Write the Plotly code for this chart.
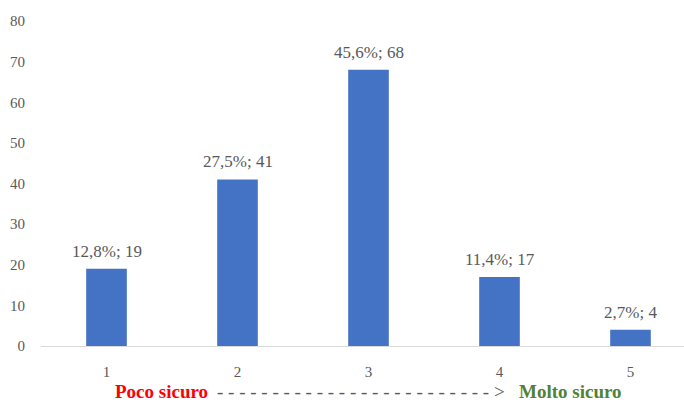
import plotly.graph_objects as go

categories = ["1", "2", "3", "4", "5"]
counts = [19, 41, 68, 17, 4]
percents = ["12,8%", "27,5%", "45,6%", "11,4%", "2,7%"]
labels = [f"{p}; {c}" for p, c in zip(percents, counts)]

x_vals = [1, 2, 3, 4, 5]

fig = go.Figure()
fig.add_trace(go.Bar(
    x=x_vals, y=counts,
    marker=dict(color="#4472C4", line=dict(width=0)),
    width=0.31,
))

for xv, yv, lab in zip(x_vals, counts, labels):
    fig.add_annotation(
        x=xv, y=yv, xref="x", yref="y", text=lab, showarrow=False,
        yanchor="bottom", yshift=6,
        font=dict(family="Liberation Serif", size=17, color="#595959"),
    )

W = 643.0
def px(p):
    return (p - 41) / W

common = dict(xref="paper", yref="paper", y=0, yshift=-58, yanchor="bottom", showarrow=False)
fig.add_annotation(
    x=px(113), xanchor="left", text="<b>Poco sicuro</b>",
    font=dict(family="Liberation Serif", size=19, color="#FF0000"), **common,
)
dashes = " ".join(["-"] * 25)
fig.add_annotation(
    x=px(361), xanchor="center", text=dashes + " &gt;",
    font=dict(family="Liberation Serif", size=19, color="#595959"), **common,
)
fig.add_annotation(
    x=px(624), xanchor="right", text="<b>Molto sicuro</b>",
    font=dict(family="Liberation Serif", size=19, color="#538135"), **common,
)

fig.update_layout(
    width=684, height=403,
    margin=dict(l=41, r=0, t=21, b=57, pad=0),
    paper_bgcolor="white", plot_bgcolor="white",
    showlegend=False,
    font=dict(family="Liberation Serif", size=15, color="#595959"),
    xaxis=dict(
        range=[0.5, 0.5 + W / 131], tickvals=x_vals, ticktext=categories,
        showgrid=False, zeroline=False, showline=True, linecolor="#D9D9D9", linewidth=1,
        ticks="outside", ticklen=12, tickcolor="rgba(0,0,0,0)",
        tickfont=dict(size=15, color="#595959"),
    ),
    yaxis=dict(
        range=[0, 80], dtick=10, showgrid=False, zeroline=False, showline=False,
        ticks="outside", ticklen=12, tickcolor="rgba(0,0,0,0)",
        tickfont=dict(size=15, color="#595959"),
    ),
)

fig.write_html("out.html")
